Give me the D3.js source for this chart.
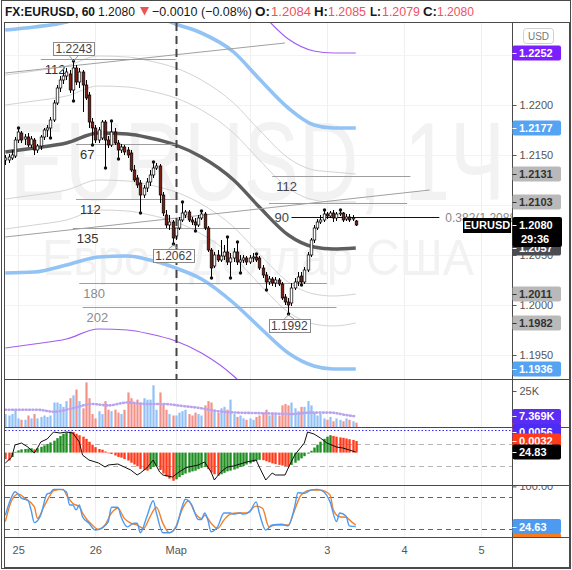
<!DOCTYPE html>
<html><head><meta charset="utf-8">
<script src="https://cdn.jsdelivr.net/npm/d3@7/dist/d3.min.js"></script>
<style>
html,body{margin:0;padding:0;background:#fff;}
svg{display:block;font-family:"Liberation Sans",Arial,sans-serif;}
</style></head><body>
<svg id="c" width="572" height="570"></svg>
<script>
// ---------------- DATA ----------------
const firstBar = -4;   // bar index of first candle (Feb 25 00:00 = 0)
const open = [1.2145,1.2145,1.2147,1.2149,1.2165,1.2172,1.2166,1.2168,1.2160,1.2165,
1.2155,1.2159,1.2168,1.2175,1.2177,1.2185,1.2202,1.2217,1.2225,1.2229,
1.2231,1.2215,1.2237,1.2223,1.2233,1.2220,1.2210,1.2183,1.2177,1.2165,
1.2167,1.2183,1.2165,1.2160,1.2173,1.2162,1.2155,1.2158,1.2155,1.2152,
1.2135,1.2127,1.2122,1.2110,1.2117,1.2123,1.2130,1.2137,1.2139,1.2110,
1.2090,1.2080,1.2083,1.2069,1.2077,1.2085,1.2090,1.2093,1.2085,1.2083,
1.2080,1.2087,1.2091,1.2077,1.2055,1.2039,1.2050,1.2045,1.2049,1.2053,
1.2043,1.2047,1.2053,1.2043,1.2045,1.2047,1.2043,1.2047,1.2048,1.2047,
1.2037,1.2030,1.2023,1.2026,1.2022,1.2025,1.2021,1.2008,1.2003,1.2002,
1.2017,1.2023,1.2029,1.2023,1.2035,1.2050,1.2065,1.2077,1.2083,1.2085,
1.2091,1.2089,1.2092,1.2087,1.2091,1.2092,1.2086,1.2088,1.2086,1.2084];
const high = [1.2150,1.2151,1.2155,1.2168,1.2176,1.2174,1.2171,1.2172,1.2169,1.2167,
1.2161,1.2170,1.2177,1.2180,1.2188,1.2205,1.2220,1.2229,1.2235,1.2237,
1.2235,1.2243,1.2240,1.2237,1.2235,1.2225,1.2213,1.2187,1.2180,1.2178,
1.2185,1.2185,1.2169,1.2183,1.2177,1.2165,1.2161,1.2160,1.2158,1.2155,
1.2140,1.2130,1.2125,1.2120,1.2127,1.2135,1.2142,1.2142,1.2141,1.2113,
1.2095,1.2090,1.2085,1.2077,1.2088,1.2102,1.2095,1.2095,1.2088,1.2087,
1.2090,1.2093,1.2093,1.2079,1.2057,1.2053,1.2055,1.2065,1.2060,1.2067,
1.2052,1.2057,1.2062,1.2050,1.2050,1.2049,1.2050,1.2052,1.2050,1.2049,
1.2040,1.2033,1.2029,1.2028,1.2028,1.2027,1.2023,1.2011,1.2007,1.2022,
1.2027,1.2033,1.2033,1.2038,1.2053,1.2067,1.2080,1.2086,1.2090,1.2094,
1.2093,1.2094,1.2095,1.2093,1.2094,1.2093,1.2091,1.2091,1.2090,1.2085];
const low = [1.2140,1.2142,1.2145,1.2147,1.2162,1.2162,1.2160,1.2158,1.2157,1.2150,
1.2152,1.2155,1.2165,1.2168,1.2168,1.2183,1.2200,1.2213,1.2221,1.2225,
1.2212,1.2205,1.2220,1.2217,1.2193,1.2205,1.2177,1.2161,1.2162,1.2162,
1.2165,1.2138,1.2157,1.2158,1.2160,1.2147,1.2152,1.2150,1.2147,1.2133,
1.2123,1.2117,1.2093,1.2107,1.2113,1.2119,1.2127,1.2135,1.2102,1.2089,
1.2077,1.2075,1.2062,1.2065,1.2075,1.2083,1.2087,1.2083,1.2080,1.2075,
1.2078,1.2085,1.2075,1.2053,1.2028,1.2037,1.2043,1.2043,1.2045,1.2040,
1.2028,1.2043,1.2040,1.2033,1.2042,1.2040,1.2041,1.2043,1.2043,1.2035,
1.2027,1.2016,1.2020,1.2019,1.2018,1.2019,1.2005,1.2000,1.1992,1.1999,
1.2015,1.2019,1.2021,1.2021,1.2033,1.2048,1.2062,1.2075,1.2081,1.2083,
1.2086,1.2087,1.2083,1.2084,1.2089,1.2083,1.2084,1.2083,1.2084,1.2079];
const close = [1.2147,1.2148,1.2150,1.2165,1.2173,1.2165,1.2168,1.2160,1.2166,1.2155,
1.2159,1.2168,1.2175,1.2177,1.2185,1.2202,1.2217,1.2225,1.2229,1.2233,
1.2215,1.2237,1.2223,1.2233,1.2220,1.2207,1.2183,1.2177,1.2165,1.2175,
1.2183,1.2165,1.2160,1.2173,1.2162,1.2155,1.2158,1.2153,1.2150,1.2135,
1.2125,1.2120,1.2110,1.2117,1.2123,1.2130,1.2137,1.2139,1.2110,1.2092,
1.2080,1.2083,1.2067,1.2077,1.2085,1.2092,1.2093,1.2085,1.2083,1.2080,
1.2087,1.2091,1.2077,1.2055,1.2037,1.2050,1.2045,1.2049,1.2053,1.2043,
1.2047,1.2053,1.2043,1.2045,1.2047,1.2043,1.2047,1.2048,1.2045,1.2037,
1.2030,1.2023,1.2026,1.2022,1.2025,1.2021,1.2007,1.2003,1.2000,1.2017,
1.2023,1.2028,1.2023,1.2035,1.2050,1.2065,1.2077,1.2083,1.2085,1.2091,
1.2089,1.2092,1.2087,1.2091,1.2092,1.2085,1.2088,1.2085,1.2087,1.2080];
const fractalHighs = [0,17,29,42,51,57,65,68,74,95,100];
const fractalLows  = [10,17,23,27,31,38,48,55,60,66,69,77,84,88];

// envelope (MA + fib percent bands) sampled at bar indices
const envIdx      = [-4,5,15,25,34,41,49,57,67,75,84,92,98,105];
const maLine      = [1.2153,1.2157,1.2162,1.2172,1.2171,1.2167,1.2160,1.2148,1.2125,1.2098,1.2070,1.2058,1.2056,1.2057];
const bandUp100   = [1.2275,1.2278,1.2283,1.2295,1.2297,1.2291,1.2281,1.2272,1.2253,1.2226,1.2197,1.2180,1.2177,1.2177];
const bandDn100   = [1.2032,1.2033,1.2040,1.2048,1.2049,1.2045,1.2037,1.2026,1.2002,1.1978,1.1952,1.1939,1.1936,1.1936];
const bandUp162   = [1.2349,1.2353,1.2358,1.2368,1.2367,1.2363,1.2356,1.2344,1.2321,1.2294,1.2266,1.2254,1.2252,1.2252];
const bandDn162   = [1.1957,1.1961,1.1966,1.1976,1.1975,1.1971,1.1964,1.1952,1.1929,1.1902,1.1874,1.1862,1.1860,1.1862];
const bandUp62    = [1.2230,1.2234,1.2239,1.2249,1.2248,1.2244,1.2237,1.2225,1.2202,1.2175,1.2147,1.2135,1.2133,1.2131];
const bandUp38    = [1.2200,1.2204,1.2209,1.2219,1.2218,1.2214,1.2207,1.2195,1.2172,1.2145,1.2117,1.2105,1.2103,1.2103];
const bandDn38    = [1.2106,1.2110,1.2115,1.2125,1.2124,1.2120,1.2113,1.2101,1.2078,1.2051,1.2023,1.2011,1.2009,1.2011];
const bandDn62    = [1.2076,1.2080,1.2085,1.2095,1.2094,1.2090,1.2083,1.2071,1.2048,1.2021,1.1993,1.1981,1.1979,1.1982];

// horizontal level lines
const levelPrice = [1.2246,1.2161,1.2106,1.2077,1.2022,1.1998,1.2129,1.2102];
const levelFrom  = [7,18,18,17,19,20,79,78];
const levelTo    = [49,50,49,72,96,99,122,121];
const levelText  = ["112","67","112","135","180","202","112",""];
const levelTextColor = ["#333","#333","#333","#333","#8c8c8c","#8c8c8c","#444",""];
const fibPrice = 1.2088, fibFrom = 85, fibTo = 131;
const trendA = [[-4,1.2232],[83,1.2262]];
const trendB = [[-4,1.2068],[128,1.2115]];
const extremeIdx = [17,48,84];
const extremeVal = [1.2243,1.2062,1.1992];
const extremeSide = ["high","low","low"];

// volume (K)
const volume = [9,8,9,12,6,5,5,8,6,9, 6,7,8,7,8,17,17,16,14,18,
20,22,26,18,13,31,20,9,6,11, 9,18,12,11,12,10,9,12,24,20,
17,19,16,20,19,19,29,12,24,16, 12,9,8,8,10,11,12,9,8,10,
9,8,15,18,17,12,10,13,14,12, 19,9,7,8,6,5,6,5,7,8,
10,12,8,10,9,8,15,16,15,17, 13,11,14,14,18,15,10,8,9,6,
5,7,4,6,5,4,6,5,4,3];
const volMaIdx = [-4,6,11,17,23,28,34,40,45,51,57,62,68,74,80,85,91,97,102,105];
const volMaVal = [12,12,10.6,13,16,15,17,16,16,14.6,13,11,10,9.7,9.3,9,10,10,8.3,7.369];

// MACD histogram (units of 0.0001)
const hist = [-18,-22,-12,2,6,9,10,11,12,9, 12,16,20,24,28,33,40,46,52,56,
58,57,52,48,44,38,30,22,15,10, 8,3,-2,-4,-8,-12,-14,-18,-22,-28,
-33,-38,-45,-48,-50,-46,-40,-38,-48,-58, -66,-72,-78,-74,-68,-62,-58,-55,-52,-50,
-46,-42,-40,-46,-55,-60,-64,-60,-56,-52, -50,-47,-44,-40,-37,-33,-30,-26,-22,-20,
-21,-24,-27,-30,-32,-34,-36,-38,-39,-34, -28,-22,-16,-10,-3,5,14,22,30,38,
44,48,46,44,42,41,39,37,35,32];
// oscillator line in the MACD pane
const oscIdx = [-4,-2,-1,1,3,5,6,7,9,11,13,15,17,19,20,22,25,27,28,31,33,35,37,38,40,42,44,45,48,50,52,53,56,58,60,61,63,65,67,69,71,74,75,77,79,80,83,84,86,89,90,92,94,96,99,101,103,105];
const oscVal = [-2.5,12.5,42.5,47.5,37.5,22.5,35,50,57.5,75,72.5,75,72.5,50,17.5,5,-2.5,-12.5,-7.5,-5,-12.5,-20,-32.5,-27.5,-15,5,-25,-32.5,-37.5,-25,-15,-12.5,-7.5,0,-25,-45,-25,-12.5,-10,-5,0,5,-12.5,-45,-27.5,-32.5,-32.5,-15,17.5,47.5,75,70,60,47.5,37.5,35,30,24.83];
const oscLevels = [45,-10];

// stochastic
const stoKIdx = [-4,-2,-1,1,3,4,5,7,9,10,11,13,15,16,17,18,19,20,22,24,26,28,29,31,32,34,36,37,38,40,42,43,45,47,49,51,52,54,56,57,58,59,60,62,64,66,67,69,70,72,74,75,77,79,82,84,86,87,89,91,93,95,97,99,100,102,103,105];
const stoKVal = [46,80.7,90,78,74,56,32,46,86,88,94.5,94.5,90,65,65,56,65,43,31,18,22,34,61,61,43,24,31,31,13,43,73,50,13,13,22,62,76,65,38,38,50,37,15,24,50,50,48,50,48,52,71,50,18,27.5,29,26,62,88,87,93,94.5,90,71,34,50,44,26,24.63];
const stoDIdx = [-4,-2,0,2,5,6,8,10,11,14,15,17,19,20,23,25,27,29,31,33,35,37,39,41,43,45,47,49,51,53,55,57,58,60,62,64,66,68,71,74,76,78,80,84,86,88,91,94,97,98,100,102,104,105];
const stoDVal = [34,74,86,78,62,40,62,84,92,94.5,84,68,62,50,27.5,19.5,27.5,50,59,40,31,27.5,21,43,61,31,13,24,57,73,50,40,46,31,21,37,48,50,50,63,59,24,27.5,27.5,56,84,93,93,84,56,43,42,32,27.5];
const stoLevels = [80,20];

// axes
const timeTicks  = [0,24,49,96,120,144];
const timeLabels = ["25","26","Мар","3","4","5"];
const gridIdx    = [0,24,49,72,96,120,144];
const priceTicks = [1.1950,1.2000,1.2050,1.2100,1.2150,1.2200,1.2250];
const sessionIdx = 49;
const lastPrice = 1.2080;

// ---------------- SCALES ----------------
const x  = d3.scaleLinear().domain([0,144]).range([18.2,481.16]);
const yP = d3.scaleLinear().domain([1.1926,1.2283]).range([379,22]);
const yV = d3.scaleLinear().domain([0,25]).range([427,391]);
const yH = d3.scaleLinear().domain([-80,60]).range([481.5,430.9]);
const yO = d3.scaleLinear().domain([-50,80]).range([482,430]);
const yS = d3.scaleLinear().domain([0,100]).range([539.7,486.4]);
const px = i => Math.round(x(i)) + 0.5;

const svg = d3.select("#c");
svg.append("rect").attr("width",572).attr("height",570).attr("fill","#fff");
const defs = svg.append("defs");
function clip(id,x0,y0,w,h){defs.append("clipPath").attr("id",id).append("rect").attr("x",x0).attr("y",y0).attr("width",w).attr("height",h);}
clip("cMain",5,23,507,356);
clip("cVol",5,380,507,47);
clip("cMacd",5,428,507,57);
clip("cSto",5,486,507,51);
clip("cStoAx",513,486,56,51);
clip("cAxis",513,23,56,514);

// grid
const grid = svg.append("g");
gridIdx.forEach(i=>grid.append("line").attr("x1",px(i)).attr("x2",px(i)).attr("y1",23).attr("y2",537).attr("stroke","#efefef"));
priceTicks.forEach(p=>grid.append("line").attr("x1",5).attr("x2",512).attr("y1",Math.round(yP(p))+0.5).attr("y2",Math.round(yP(p))+0.5).attr("stroke","#f3f3f3"));

// ---------------- MAIN PANE ----------------
const main = svg.append("g").attr("clip-path","url(#cMain)");
main.append("text").attr("x",10).attr("y",200).attr("font-size",112).attr("fill","#f2f2f2")
  .attr("textLength",495).attr("lengthAdjust","spacingAndGlyphs").text("EURUSD, 1Ч");
main.append("text").attr("x",42).attr("y",275).attr("font-size",50).attr("fill","#f2f2f2")
  .attr("textLength",432).attr("lengthAdjust","spacingAndGlyphs").text("Евро / Доллар США");

const envLine = d3.line().x(d=>x(d[0])).y(d=>yP(d[1])).curve(d3.curveMonotoneX);
const zipEnv = arr => envIdx.map((i,k)=>[i,arr[k]]);
[bandUp62,bandUp38,bandDn38,bandDn62].forEach(a=>main.append("path").attr("d",envLine(zipEnv(a))).attr("fill","none").attr("stroke","#d3d3d3").attr("stroke-width",1));
[bandUp162,bandDn162].forEach(a=>main.append("path").attr("d",envLine(zipEnv(a))).attr("fill","none").attr("stroke","#a35cf2").attr("stroke-width",1.2));
[bandUp100,bandDn100].forEach(a=>main.append("path").attr("d",envLine(zipEnv(a))).attr("fill","none").attr("stroke","#92c3f4").attr("stroke-width",3.6));
main.append("path").attr("d",envLine(zipEnv(maLine))).attr("fill","none").attr("stroke","#5e5e5e").attr("stroke-width",3.4);

// levels
levelPrice.forEach((p,k)=>{
  const yy = Math.round(yP(p))+0.5;
  main.append("line").attr("x1",x(levelFrom[k])).attr("x2",x(levelTo[k])).attr("y1",yy).attr("y2",yy).attr("stroke","#9e9e9e").attr("stroke-width",1);
  if(levelText[k]) main.append("text").attr("x",x(levelFrom[k])+4).attr("y",yy+14.5).attr("font-size",13).attr("fill",levelTextColor[k]).text(levelText[k]);
});
[trendA,trendB].forEach(t=>main.append("line").attr("x1",x(t[0][0])).attr("y1",yP(t[0][1])).attr("x2",x(t[1][0])).attr("y2",yP(t[1][1])).attr("stroke","#a0a0a0").attr("stroke-width",1));
{
  const yy = Math.round(yP(fibPrice))+0.5;
  main.append("line").attr("x1",x(fibFrom)).attr("x2",x(fibTo)).attr("y1",yy).attr("y2",yy).attr("stroke","#111").attr("stroke-width",1);
  main.append("text").attr("x",x(fibFrom)-17).attr("y",yy+4).attr("font-size",13).attr("fill","#444").text("90");
  main.append("text").attr("x",x(fibTo)+6).attr("y",yy+4).attr("font-size",12).attr("fill","#888").text("0.382(" + fibPrice.toFixed(4) + ")");
}
// session dashed line
main.append("line").attr("x1",px(sessionIdx)).attr("x2",px(sessionIdx)).attr("y1",23).attr("y2",379)
  .attr("stroke","#444").attr("stroke-width",2).attr("stroke-dasharray","8,5");

// candles
const bars = open.map((o,k)=>({i:firstBar+k,o,h:high[k],l:low[k],c:close[k]}));
const cg = main.append("g");
bars.forEach(b=>{
  const cx = px(b.i);
  cg.append("line").attr("x1",cx).attr("x2",cx).attr("y1",yP(b.h)).attr("y2",yP(b.l)).attr("stroke","#000").attr("stroke-width",1);
  const top = yP(Math.max(b.o,b.c)), bot = yP(Math.min(b.o,b.c));
  cg.append("rect").attr("x",cx-1.3).attr("width",2.6).attr("y",top).attr("height",Math.max(1,bot-top))
    .attr("fill", b.c>=b.o ? "#ffffff" : "#7c1d12").attr("stroke","#000").attr("stroke-width",0.7);
});
const byIdx = i => bars[i-firstBar];
fractalHighs.forEach(i=>cg.append("circle").attr("cx",px(i)).attr("cy",yP(byIdx(i).h)-1).attr("r",1.7).attr("fill","#111"));
fractalLows.forEach(i=>cg.append("circle").attr("cx",px(i)).attr("cy",yP(byIdx(i).l)+1).attr("r",1.7).attr("fill","#111"));

// extreme labels
extremeIdx.forEach((i,k)=>{
  const cx = x(i)+1, v = extremeVal[k];
  const isHigh = extremeSide[k]==="high";
  const tipY = isHigh ? yP(byIdx(i).h) : yP(byIdx(i).l);
  const by = isHigh ? tipY-20 : tipY+6;
  main.append("path").attr("d",`M${cx-5},${isHigh?by+13:by} L${px(i)},${isHigh?tipY-1:tipY+2} L${cx+5},${isHigh?by+13:by}`)
    .attr("fill","none").attr("stroke","#999").attr("stroke-width",1);
  main.append("rect").attr("x",Math.round(cx-20.5)+0.5).attr("y",Math.round(by)+0.5).attr("width",41).attr("height",13)
    .attr("fill","#fff").attr("stroke","#8a8a8a").attr("stroke-width",1);
  main.append("text").attr("x",cx).attr("y",by+11).attr("text-anchor","middle").attr("font-size",12).attr("fill","#444").text(v.toFixed(4));
});

// ---------------- VOLUME ----------------
const vol = svg.append("g").attr("clip-path","url(#cVol)");
bars.forEach((b,k)=>{
  vol.append("rect").attr("x",px(b.i)-1.1).attr("width",2.2).attr("y",yV(volume[k])).attr("height",yV(0)-yV(volume[k]))
    .attr("fill", b.c>=b.o ? "#92c1f7" : "#f4928a");
});
vol.append("path").attr("d",d3.line().x(d=>x(d[0])).y(d=>yV(d[1])).curve(d3.curveMonotoneX)(volMaIdx.map((i,k)=>[i,volMaVal[k]])))
  .attr("fill","none").attr("stroke","#b9a3ef").attr("stroke-width",2.6).attr("stroke-linecap","round").attr("stroke-dasharray","0.8,2.6");

// ---------------- MACD ----------------
const mac = svg.append("g").attr("clip-path","url(#cMacd)");
oscLevels.forEach(l=>mac.append("line").attr("x1",5).attr("x2",512).attr("y1",Math.round(yO(l))+0.5).attr("y2",Math.round(yO(l))+0.5)
  .attr("stroke","#b5b5b5").attr("stroke-dasharray","5,4"));
hist.forEach((h,k)=>{
  const i = firstBar+k;
  const rising = k>0 && h>=hist[k-1];
  const y0 = yH(0), y1 = yH(h);
  mac.append("rect").attr("x",px(i)-1.2).attr("width",2.4).attr("y",Math.min(y0,y1)).attr("height",Math.abs(y1-y0))
    .attr("fill", rising ? "#1f8d22" : "#ff3b1c");
});
mac.append("path").attr("d",d3.line().x(d=>x(d[0])).y(d=>yO(d[1]))(oscIdx.map((i,k)=>[i,oscVal[k]])))
  .attr("fill","none").attr("stroke","#111").attr("stroke-width",1);
svg.append("line").attr("x1",5).attr("x2",512).attr("y1",430.5).attr("y2",430.5).attr("stroke","#3b2cf5").attr("stroke-width",1.2).attr("stroke-dasharray","1.5,2");

// ---------------- STOCH ----------------
const sto = svg.append("g").attr("clip-path","url(#cSto)");
stoLevels.forEach(l=>sto.append("line").attr("x1",5).attr("x2",512).attr("y1",Math.round(yS(l))+0.5).attr("y2",Math.round(yS(l))+0.5)
  .attr("stroke","#666").attr("stroke-dasharray","5,4"));
const sLine = d3.line().x(d=>x(d[0])).y(d=>yS(d[1])).curve(d3.curveMonotoneX);
sto.append("path").attr("d",sLine(stoDIdx.map((i,k)=>[i,stoDVal[k]]))).attr("fill","none").attr("stroke","#f0802a").attr("stroke-width",1.4);
sto.append("path").attr("d",sLine(stoKIdx.map((i,k)=>[i,stoKVal[k]]))).attr("fill","none").attr("stroke","#4d9bf0").attr("stroke-width",1.4);

// ---------------- FRAME ----------------
const fr = svg.append("g").attr("stroke","#4a4a4a").attr("stroke-width",1).attr("fill","none");
fr.append("rect").attr("x",1.5).attr("y",0.5).attr("width",569).attr("height",568);
fr.append("rect").attr("x",4.5).attr("y",22.5).attr("width",565).attr("height",545);
[379.5,427.5,485.5,537.5].forEach(y=>fr.append("line").attr("x1",4.5).attr("x2",569.5).attr("y1",y).attr("y2",y));
fr.append("line").attr("x1",512.5).attr("x2",512.5).attr("y1",22.5).attr("y2",567.5);

// ---------------- AXES ----------------
function styleAxis(g){
  g.select(".domain").remove();
  g.selectAll("line").attr("stroke","#555");
  g.selectAll("text").attr("fill","#555").attr("font-size",11).attr("font-family","Liberation Sans, Arial, sans-serif");
}
const axG = svg.append("g").attr("clip-path","url(#cAxis)");
axG.append("g").attr("transform","translate(512.5,0)")
  .call(d3.axisRight(yP).tickValues(priceTicks).tickFormat(d3.format(".4f")).tickSize(4).tickPadding(3)).call(styleAxis);
axG.append("g").attr("transform","translate(512.5,0)")
  .call(d3.axisRight(yV).tickValues([25]).tickFormat(d=>d+"K").tickSize(4).tickPadding(3)).call(styleAxis);
svg.append("g").attr("clip-path","url(#cStoAx)").append("g").attr("transform","translate(512.5,0)")
  .call(d3.axisRight(yS).tickValues([100]).tickFormat(d3.format(".2f")).tickSize(4).tickPadding(3)).call(styleAxis);
svg.append("g").attr("transform","translate(0,537.5)")
  .call(d3.axisBottom(x).tickValues(timeTicks).tickFormat((d,i)=>timeLabels[i]).tickSize(0).tickPadding(9)).call(styleAxis);

// price tags
function tag(y,text,bg,fg,h){
  h = h||15;
  const g = svg.append("g");
  g.append("rect").attr("x",512.5).attr("y",y-h/2).attr("width",48.5).attr("height",h).attr("rx",2).attr("fill",bg);
  g.append("line").attr("x1",512.5).attr("x2",516.5).attr("y1",Math.round(y)+0.5).attr("y2",Math.round(y)+0.5).attr("stroke",fg);
  g.append("text").attr("x",519).attr("y",y+4).attr("font-size",11).attr("fill",fg).attr("font-weight","bold").text(text);
  return g;
}
svg.append("rect").attr("x",523.5).attr("y",28.5).attr("width",30).attr("height",15).attr("rx",3).attr("fill","#fff").attr("stroke","#cfcfcf");
svg.append("text").attr("x",538.5).attr("y",40).attr("text-anchor","middle").attr("font-size",10).attr("fill","#777").text("USD");

const lastEnv = envIdx.length-1;
tag(yP(bandDn38[lastEnv]), bandDn38[lastEnv].toFixed(4), "#b9b9b9", "#333");
tag(yP(bandDn62[lastEnv]), bandDn62[lastEnv].toFixed(4), "#b9b9b9", "#333");
tag(yP(bandUp38[lastEnv]), bandUp38[lastEnv].toFixed(4), "#b9b9b9", "#333");
tag(yP(bandUp62[lastEnv]), bandUp62[lastEnv].toFixed(4), "#b9b9b9", "#333");
tag(yP(bandUp100[lastEnv]), bandUp100[lastEnv].toFixed(4), "#55a4f3", "#fff");
tag(yP(bandDn100[lastEnv]), bandDn100[lastEnv].toFixed(4), "#55a4f3", "#fff");
tag(yP(bandUp162[lastEnv]), bandUp162[lastEnv].toFixed(4), "#7b1fff", "#fff");
tag(yP(maLine[lastEnv]), maLine[lastEnv].toFixed(4), "#4b4b52", "#fff");
// current price
{
  const y = yP(lastPrice);
  svg.append("rect").attr("x",512.5).attr("y",y-8).attr("width",49.5).attr("height",30).attr("rx",2).attr("fill","#000");
  svg.append("line").attr("x1",512.5).attr("x2",516.5).attr("y1",Math.round(y)+0.5).attr("y2",Math.round(y)+0.5).attr("stroke","#fff");
  svg.append("text").attr("x",519).attr("y",y+4).attr("font-size",11).attr("font-weight","bold").attr("fill","#fff").text(lastPrice.toFixed(4));
  svg.append("text").attr("x",521).attr("y",y+18).attr("font-size",11).attr("font-weight","bold").attr("fill","#fff").text("29:36");
  svg.append("rect").attr("x",463).attr("y",y-7).attr("width",48).attr("height",15).attr("fill","#000");
  svg.append("text").attr("x",487).attr("y",y+4).attr("text-anchor","middle").attr("font-size",11).attr("font-weight","bold").attr("fill","#fff").text("EURUSD");
}
// lower pane tags
tag(428.5,"0.0059","#ff3b1c","#fff");
tag(431.5,"0.0056","#4a2cf5","#fff");
tag(yV(volMaVal[volMaVal.length-1]), volMaVal[volMaVal.length-1].toFixed(3)+"K", "#5a2cf5", "#fff");
tag(yH(hist[hist.length-1]), (hist[hist.length-1]/10000).toFixed(4), "#ff3b1c", "#fff");
tag(yO(oscVal[oscVal.length-1]), oscVal[oscVal.length-1].toFixed(2), "#000", "#fff");
{
  const og = svg.append("g").attr("clip-path","url(#cStoAx)");
  og.append("rect").attr("x",512.5).attr("y",533).attr("width",48.5).attr("height",15).attr("rx",2).attr("fill","#f57c1f");
}
tag(yS(stoKVal[stoKVal.length-1]), stoKVal[stoKVal.length-1].toFixed(2), "#4d9bf0", "#fff");

// ---------------- HEADER ----------------
const red = "#f0525a";
const hdr = [
  {x:5,t:"FX:EURUSD, 60",w:90,b:true,c:"#131722"},
  {x:98,t:"1.2080",w:37,c:"#131722"},
  {x:152,t:"−0.0010 (−0.08%)",w:100,c:"#131722"},
  {x:255,t:"O:",w:15,b:true,c:"#131722"},
  {x:271,t:"1.2084",w:40,c:red},
  {x:314,t:"H:",w:14,b:true,c:"#131722"},
  {x:328,t:"1.2085",w:38,c:red},
  {x:370,t:"L:",w:11,b:true,c:"#131722"},
  {x:382,t:"1.2079",w:38,c:red},
  {x:423,t:"C:",w:14,b:true,c:"#131722"},
  {x:437,t:"1.2080",w:37,c:red}
];
hdr.forEach(s=>svg.append("text").attr("x",s.x).attr("y",15.5).attr("font-size",13).attr("fill",s.c)
  .attr("font-weight",s.b?"bold":"normal").attr("textLength",s.w).attr("lengthAdjust","spacingAndGlyphs").text(s.t));
svg.append("path").attr("d","M140,7 L149,7 L144.5,15.5 Z").attr("fill","#f0525a");
</script></body></html>
